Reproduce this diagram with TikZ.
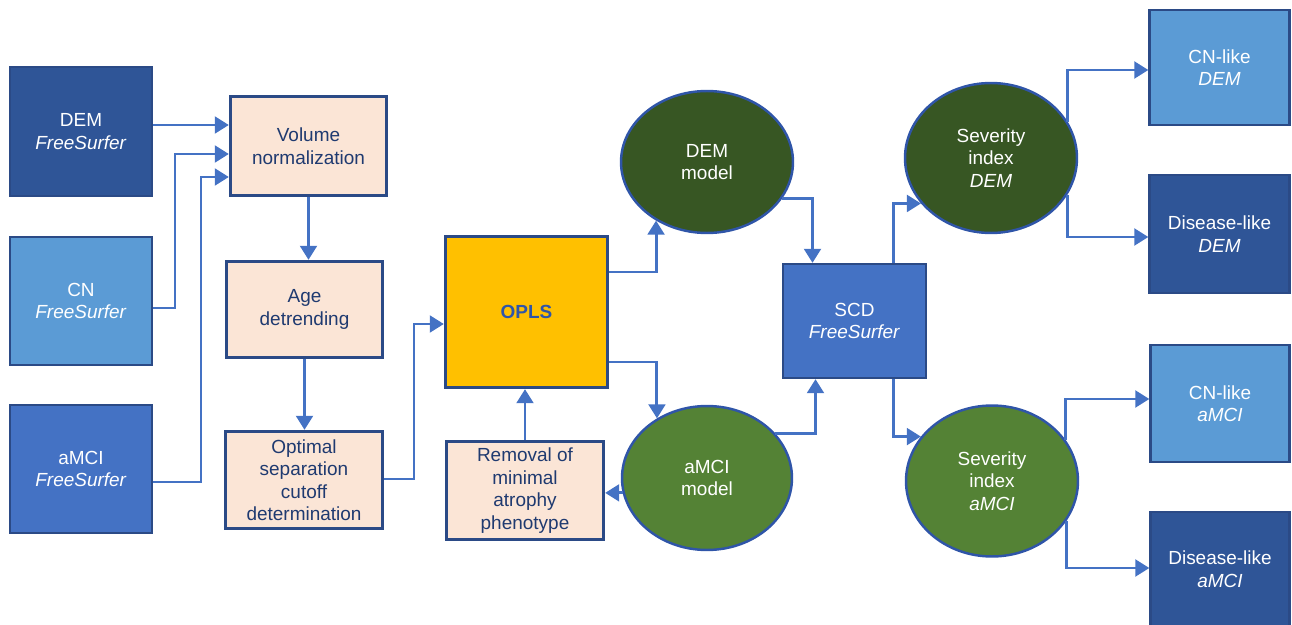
\documentclass[tikz,border=0pt]{standalone}
\usepackage{fontspec}
\setmainfont{Liberation Sans}
\usetikzlibrary{calc,arrows.meta,shapes.geometric}
\definecolor{dkblue}{HTML}{2F5597}
\definecolor{ltblue}{HTML}{5B9BD5}
\definecolor{mdblue}{HTML}{4472C4}
\definecolor{edgeblue}{HTML}{2B4A86}
\definecolor{pastel}{HTML}{FBE5D6}
\definecolor{navy}{HTML}{1F3A70}
\definecolor{opls}{HTML}{FFC000}
\definecolor{dkgreen}{HTML}{375623}
\definecolor{mdgreen}{HTML}{548235}
\definecolor{arrblue}{HTML}{4472C4}
\definecolor{oplstext}{HTML}{2F55A8}
\definecolor{elledge}{HTML}{2F55A8}
\begin{document}
\begin{tikzpicture}[x=0.02cm,y=-0.02cm,
  txt/.style={font=\fontsize{10.8}{12.8}\selectfont, align=center, inner sep=0pt},
  bluebox/.style={txt, draw=edgeblue, line width=1.3pt, text=white},
  pbox/.style={txt, draw=edgeblue, line width=1.9pt, fill=pastel, text=navy},
  ell/.style={txt, ellipse, draw=elledge, line width=1.4pt, text=white},
  arr/.style={draw=arrblue, line width=1.7pt, -{Triangle[length=8pt,width=9.5pt]}}
]
\useasboundingbox (0,0) rectangle (1292,625);

% input boxes
\node[bluebox, fill=dkblue, minimum width=2.84cm, minimum height=2.58cm] (dem) at (81,131.5) {DEM\\\textit{FreeSurfer}};
\node[bluebox, fill=ltblue, minimum width=2.84cm, minimum height=2.56cm] (cn) at (81,301) {CN\\\textit{FreeSurfer}};
\node[bluebox, fill=mdblue, minimum width=2.84cm, minimum height=2.56cm] (amci) at (81,469) {aMCI\\\textit{FreeSurfer}};

% processing boxes
\node[pbox, minimum width=3.12cm, minimum height=1.98cm] (vol) at (308.5,146) {Volume\\normalization};
\node[pbox, minimum width=3.12cm, minimum height=1.92cm] (age) at (304.5,309.5) {Age\\detrending};
\node[pbox, minimum width=3.14cm, minimum height=1.94cm] (opt) at (304,480) {Optimal\\separation\\cutoff\\determination};
\node[pbox, fill=opls, text=oplstext, font=\fontsize{10.8}{12.8}\selectfont\bfseries, minimum width=3.24cm, minimum height=3.02cm] (ops) at (526.5,312) {OPLS};
\node[pbox, minimum width=3.14cm, minimum height=1.96cm] (rem) at (525,490.5) {Removal of\\minimal\\atrophy\\phenotype};

% models
\node[ell, fill=dkgreen, minimum width=3.44cm, minimum height=2.84cm] (demm) at (707,162) {DEM\\model};
\node[ell, fill=mdgreen, minimum width=3.40cm, minimum height=2.88cm] (amcim) at (707,478) {aMCI\\model};

% SCD
\node[bluebox, fill=mdblue, minimum width=2.86cm, minimum height=2.28cm] (scd) at (854.5,321) {SCD\\\textit{FreeSurfer}};

% severity indices
\node[ell, fill=dkgreen, minimum width=3.44cm, minimum height=3.0cm] (sevd) at (991,158) {Severity\\index\\\textit{DEM}};
\node[ell, fill=mdgreen, minimum width=3.44cm, minimum height=3.02cm] (seva) at (992,481) {Severity\\index\\\textit{aMCI}};

% outputs
\node[bluebox, fill=ltblue, minimum width=2.80cm, minimum height=2.30cm] (cnd) at (1219.5,67.5) {CN-like\\\textit{DEM}};
\node[bluebox, fill=dkblue, minimum width=2.80cm, minimum height=2.36cm] (disd) at (1219.5,234) {Disease-like\\\textit{DEM}};
\node[bluebox, fill=ltblue, minimum width=2.78cm, minimum height=2.34cm] (cna) at (1220,403.5) {CN-like\\\textit{aMCI}};
\node[bluebox, fill=dkblue, minimum width=2.78cm, minimum height=2.28cm] (disa) at (1220,569) {Disease-like\\\textit{aMCI}};

% connectors
\draw[arr] (dem.east |- 0,125) -- (vol.west |- 0,125);
\draw[arr] (cn.east |- 0,308) -| (175,154) -- (vol.west |- 0,154);
\draw[arr] (amci.east |- 0,482) -| (201,177) -- (vol.west |- 0,177);
\draw[arr] (vol.south) -- (age.north -| vol.south);
\draw[arr] (age.south) -- (opt.north -| age.south);
\draw[arr] (opt.east |- 0,479) -| (414,324) -- (ops.west |- 0,324);
\draw[arr] (ops.east |- 0,272) -| (demm.229);
\draw[arr] (ops.east |- 0,362) -| (amcim.130);
\draw[arr] (amcim.190) -- (rem.east |- amcim.190);
\draw[arr] (rem.north) -- (ops.south -| rem.north);
\draw[arr] (demm.-26) -| ($(scd.north)+(-42,0)$);
\draw[arr] (amcim.33) -| ($(scd.south)+(-39,0)$);
\draw[arr] ($(scd.north)+(38.5,0)$) |- (sevd.213);
\draw[arr] ($(scd.south)+(38.5,0)$) |- (seva.148);
\draw[arr] (sevd.25) |- (cnd.west |- 0,70);
\draw[arr] (sevd.-26) |- (disd.west |- 0,237);
\draw[arr] (seva.29) |- (cna.west |- 0,399);
\draw[arr] (seva.-28) |- (disa.west |- 0,568);
\end{tikzpicture}
\end{document}
